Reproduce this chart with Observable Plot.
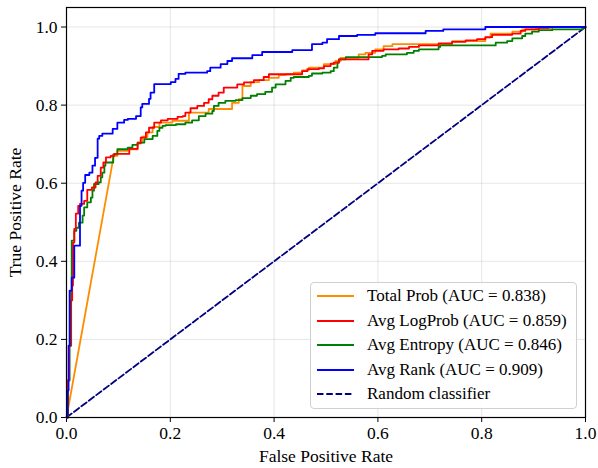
<!DOCTYPE html>
<html>
<head>
<meta charset="utf-8">
<script src="https://cdn.jsdelivr.net/npm/d3@7"></script>
<script src="https://cdn.jsdelivr.net/npm/@observablehq/plot@0.6"></script>
<style>
  body { margin: 0; background: #fff; }
  #wrap { position: relative; width: 598px; height: 468px; font-family: "Liberation Serif", "Times New Roman", serif; }
  #legend { position: absolute; left: 310px; top: 282px; width: 265px; height: 125px;
    border: 1px solid #d0d0d0; border-radius: 4px; background: rgba(255,255,255,0.85);
    font-size: 17px; color: #000; }
  .row { position: absolute; left: 0; height: 24px; display: flex; align-items: center; }
  .row svg { margin-left: 6px; margin-right: 13px; }
</style>
</head>
<body>
<div id="wrap"></div>
<script>
// ---- data ----
const seriesNames = ["Total Prob (AUC = 0.838)", "Avg LogProb (AUC = 0.859)", "Avg Entropy (AUC = 0.846)", "Avg Rank (AUC = 0.909)"];
const seriesColors = ["#ff8c00", "#ff0000", "#008000", "#0000ff"];
const randomLabel = "Random classifier";
const xTicks = [0, 0.2, 0.4, 0.6, 0.8, 1.0];
const yTicks = [0, 0.2, 0.4, 0.6, 0.8, 1.0];

// Total Prob: initial straight segment, then steps
const probDiagFpr = [0, 0.091];
const probDiagTpr = [0, 0.670];
const probFpr = [0.091,0.098,0.118,0.137,0.146,0.156,0.166,0.179,0.204,0.236,0.274,0.319,0.332,0.339,0.355,0.371,0.390,0.409,0.422,0.438,0.454,0.467,0.496,0.518,0.528,0.563,0.576,0.595,0.611,0.628,0.743,0.807,0.817,0.859,0.878,0.904,0.936,1.0];
const probTpr = [0.670,0.683,0.687,0.704,0.719,0.730,0.744,0.755,0.760,0.781,0.790,0.806,0.815,0.849,0.859,0.864,0.870,0.877,0.879,0.883,0.889,0.896,0.905,0.913,0.921,0.930,0.934,0.943,0.951,0.956,0.964,0.973,0.983,0.988,0.994,0.997,1.0,1.0];

const logFpr = [0,0.002,0.005,0.008,0.011,0.0125,0.015,0.018,0.0225,0.026,0.034,0.040,0.049,0.056,0.060,0.066,0.071,0.076,0.085,0.092,0.121,0.137,0.143,0.153,0.159,0.169,0.182,0.195,0.214,0.224,0.229,0.239,0.252,0.265,0.274,0.281,0.293,0.303,0.329,0.342,0.361,0.380,0.390,0.454,0.464,0.486,0.496,0.509,0.515,0.525,0.582,0.589,0.611,0.640,0.660,0.679,0.717,0.743,0.769,0.791,0.807,0.820,0.859,0.875,0.884,0.910,0.929,1.0];
const logTpr = [0,0.095,0.184,0.300,0.338,0.448,0.483,0.522,0.542,0.547,0.555,0.583,0.589,0.602,0.619,0.640,0.653,0.666,0.670,0.675,0.688,0.702,0.717,0.730,0.742,0.755,0.761,0.765,0.770,0.772,0.781,0.792,0.798,0.806,0.815,0.824,0.832,0.845,0.853,0.858,0.864,0.872,0.879,0.887,0.892,0.894,0.900,0.906,0.909,0.917,0.930,0.939,0.943,0.945,0.949,0.953,0.958,0.962,0.966,0.969,0.974,0.980,0.983,0.990,0.994,0.998,1.0,1.0];

const entFpr = [0,0.003,0.006,0.009,0.010,0.015,0.019,0.024,0.031,0.034,0.040,0.047,0.050,0.053,0.062,0.066,0.069,0.073,0.075,0.090,0.098,0.118,0.127,0.137,0.150,0.166,0.175,0.179,0.185,0.191,0.211,0.229,0.242,0.255,0.268,0.281,0.284,0.293,0.306,0.326,0.339,0.355,0.367,0.383,0.396,0.403,0.422,0.432,0.438,0.467,0.473,0.493,0.509,0.515,0.522,0.525,0.538,0.608,0.615,0.656,0.669,0.679,0.717,0.720,0.827,0.849,0.859,0.878,0.884,0.897,0.910,0.936,0.994,1.0];
const entTpr = [0,0.095,0.184,0.325,0.453,0.478,0.486,0.499,0.517,0.538,0.551,0.563,0.581,0.598,0.602,0.615,0.627,0.645,0.653,0.674,0.687,0.691,0.698,0.704,0.713,0.721,0.734,0.742,0.747,0.749,0.751,0.755,0.761,0.772,0.778,0.785,0.798,0.806,0.811,0.813,0.818,0.824,0.828,0.834,0.845,0.853,0.862,0.870,0.872,0.875,0.881,0.883,0.887,0.896,0.909,0.917,0.923,0.926,0.930,0.934,0.939,0.943,0.949,0.953,0.960,0.964,0.971,0.977,0.983,0.988,0.992,0.994,0.998,1.0];

const rankFpr = [0,0.002,0.004,0.006,0.010,0.015,0.026,0.029,0.032,0.036,0.044,0.050,0.055,0.060,0.063,0.069,0.089,0.098,0.111,0.118,0.134,0.143,0.146,0.159,0.162,0.169,0.201,0.210,0.216,0.229,0.271,0.277,0.297,0.310,0.319,0.358,0.377,0.435,0.473,0.493,0.502,0.525,0.560,0.595,0.692,0.726,0.807,1.0];
const rankTpr = [0,0.069,0.184,0.325,0.358,0.440,0.542,0.581,0.601,0.621,0.627,0.645,0.665,0.714,0.721,0.727,0.739,0.755,0.762,0.765,0.772,0.794,0.803,0.816,0.832,0.854,0.859,0.867,0.880,0.883,0.887,0.896,0.905,0.913,0.920,0.928,0.936,0.941,0.956,0.960,0.969,0.977,0.980,0.984,0.990,0.994,1.0,1.0];

const randomFpr = [0, 1];
const randomTpr = [0, 1];

// ---- build tables ----
const toRows = (xs, ys) => xs.map((x, i) => ({x, y: ys[i]}));
const stepSeries = [
  {rows: toRows(probFpr, probTpr), color: seriesColors[0]},
  {rows: toRows(entFpr, entTpr), color: seriesColors[2]},
  {rows: toRows(logFpr, logTpr), color: seriesColors[1]},
  {rows: toRows(rankFpr, rankTpr), color: seriesColors[3]}
];
const LW = 1.8;
const DASH = "6.5,2.8";

const chart = Plot.plot({
  width: 598,
  height: 468,
  marginLeft: 66,
  marginRight: 13,
  marginTop: 7,
  marginBottom: 51,
  style: {fontFamily: "'Liberation Serif', 'Times New Roman', serif", fontSize: "17.5px", color: "#000", background: "#fff"},
  x: {domain: [0, 1]},
  y: {domain: [0, 1.05]},
  marks: [
    Plot.gridX(xTicks, {stroke: "#000", strokeOpacity: 0.1, strokeWidth: 1}),
    Plot.gridY(yTicks, {stroke: "#000", strokeOpacity: 0.1, strokeWidth: 1}),
    Plot.axisX({ticks: xTicks, tickFormat: d3.format(".1f"), tickSize: 5, tickPadding: 4,
      label: "False Positive Rate", labelAnchor: "center", labelArrow: "none", labelOffset: 44}),
    Plot.axisY({ticks: yTicks, tickFormat: d3.format(".1f"), tickSize: 5, tickPadding: 4,
      label: "True Positive Rate", labelAnchor: "center", labelArrow: "none", labelOffset: 58}),
    Plot.line(toRows(randomFpr, randomTpr), {x: "x", y: "y", stroke: "#000080", strokeWidth: LW, strokeDasharray: DASH}),
    Plot.line(toRows(probDiagFpr, probDiagTpr), {x: "x", y: "y", stroke: seriesColors[0], strokeWidth: LW}),
    ...stepSeries.map(s => Plot.line(s.rows, {x: "x", y: "y", stroke: s.color, strokeWidth: LW, curve: "step-after"})),
    Plot.frame({stroke: "#000", strokeWidth: 1.2})
  ]
});

const wrap = document.getElementById("wrap");
wrap.appendChild(chart);

// ---- legend ----
const legend = document.createElement("div");
legend.id = "legend";
const entries = seriesNames.map((n, i) => ({label: n, color: seriesColors[i], dash: null}))
  .concat([{label: randomLabel, color: "#000080", dash: DASH}]);
entries.forEach((e, i) => {
  const row = document.createElement("div");
  row.className = "row";
  row.style.top = (1 + i * 24.5) + "px";
  row.innerHTML = `<svg width="37" height="4"><line x1="0" y1="2" x2="37" y2="2" stroke="${e.color}" stroke-width="${LW}" ${e.dash ? `stroke-dasharray="${e.dash}"` : ""}/></svg><span>${e.label}</span>`;
  legend.appendChild(row);
});
wrap.appendChild(legend);
</script>
</body>
</html>
